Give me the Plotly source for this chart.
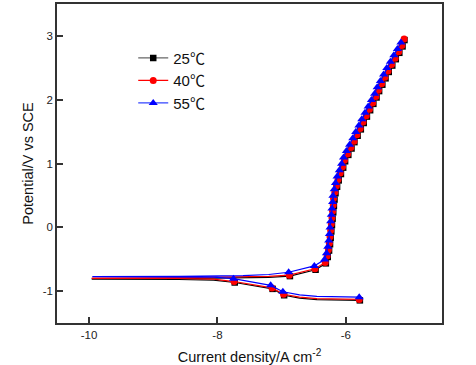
import plotly.graph_objects as go

# ---------------- data ----------------
# 25 °C (black squares)
cat_line_x_25 = [-5.78, -6.10, -6.45, -6.72, -6.96, -7.14, -7.45, -7.73, -8.06, -8.60, -9.95, -9.95, -8.60, -7.60, -7.20]
cat_line_e_25 = [-1.145, -1.142, -1.133, -1.110, -1.065, -0.965, -0.910, -0.865, -0.827, -0.815, -0.812, -0.808, -0.803, -0.795, -0.785]
cat_mark_x_25 = [-5.78, -6.96, -7.14, -7.73]
cat_mark_e_25 = [-1.145, -1.065, -0.965, -0.865]
an_x_25 = [-6.87, -6.47, -6.31, -6.28, -6.26, -6.245, -6.235, -6.225, -6.215, -6.205, -6.195, -6.185,
           -6.175, -6.16, -6.135, -6.11, -6.075, -6.04, -6.01, -5.96, -5.91, -5.865, -5.815, -5.765,
           -5.72, -5.67, -5.62, -5.57, -5.52, -5.48, -5.43, -5.38, -5.33, -5.275, -5.22, -5.165, -5.115, -5.085]
an_e_25 = [-0.765, -0.665, -0.565, -0.465, -0.365, -0.265, -0.165, -0.065, 0.035, 0.135, 0.235, 0.335,
           0.435, 0.535, 0.635, 0.735, 0.835, 0.935, 1.035, 1.135, 1.235, 1.335, 1.435, 1.535,
           1.635, 1.735, 1.835, 1.935, 2.035, 2.135, 2.235, 2.335, 2.435, 2.535, 2.635, 2.735, 2.835, 2.935]

# 40 °C (red circles)
cat_line_x_40 = [-5.79, -6.10, -6.45, -6.72, -6.97, -7.15, -7.45, -7.74, -8.06, -8.60, -9.95, -9.95, -8.60, -7.60, -7.20]
cat_line_e_40 = [-1.130, -1.127, -1.118, -1.095, -1.050, -0.950, -0.895, -0.850, -0.812, -0.802, -0.800, -0.795, -0.790, -0.780, -0.770]
cat_mark_x_40 = [-5.79, -6.97, -7.15, -7.74]
cat_mark_e_40 = [-1.130, -1.050, -0.950, -0.850]
an_x_40 = [-6.88, -6.48, -6.32, -6.29, -6.27, -6.255, -6.245, -6.235, -6.225, -6.215, -6.205, -6.195,
           -6.19, -6.17, -6.145, -6.12, -6.085, -6.05, -6.02, -5.97, -5.92, -5.87, -5.825, -5.775,
           -5.73, -5.68, -5.63, -5.58, -5.53, -5.49, -5.44, -5.39, -5.34, -5.285, -5.23, -5.175, -5.125, -5.09]
an_e_40 = [-0.75, -0.65, -0.55, -0.45, -0.35, -0.25, -0.15, -0.05, 0.05, 0.15, 0.25, 0.35,
           0.45, 0.55, 0.65, 0.75, 0.85, 0.95, 1.05, 1.15, 1.25, 1.35, 1.45, 1.55,
           1.65, 1.75, 1.85, 1.95, 2.05, 2.15, 2.25, 2.35, 2.45, 2.55, 2.65, 2.75, 2.85, 2.95]

# 55 °C (blue triangles)
cat_line_x_55 = [-5.79, -6.10, -6.45, -6.72, -6.98, -7.17, -7.46, -7.75, -8.06, -8.60, -9.95, -9.95, -8.60, -7.60, -7.20]
cat_line_e_55 = [-1.095, -1.092, -1.082, -1.060, -1.010, -0.910, -0.855, -0.805, -0.782, -0.778, -0.776, -0.774, -0.770, -0.758, -0.740]
cat_mark_x_55 = [-5.79, -6.98, -7.17, -7.75]
cat_mark_e_55 = [-1.095, -1.010, -0.910, -0.805]
an_x_55 = [-6.89, -6.49, -6.33, -6.30, -6.28, -6.265, -6.255, -6.245, -6.235, -6.225, -6.215, -6.205,
           -6.20, -6.18, -6.16, -6.135, -6.10, -6.065, -6.035, -5.99, -5.94, -5.89, -5.845, -5.795,
           -5.75, -5.70, -5.65, -5.60, -5.55, -5.51, -5.46, -5.41, -5.36, -5.305, -5.25, -5.195, -5.14]
an_e_55 = [-0.705, -0.605, -0.505, -0.405, -0.305, -0.205, -0.105, -0.005, 0.095, 0.195, 0.295, 0.395,
           0.495, 0.595, 0.695, 0.795, 0.895, 0.995, 1.095, 1.195, 1.295, 1.395, 1.495, 1.595,
           1.695, 1.795, 1.895, 1.995, 2.095, 2.195, 2.295, 2.395, 2.495, 2.595, 2.695, 2.795, 2.895]

series = [
    ("25℃", "#000000", "square", 6.5, cat_line_x_25, cat_line_e_25, cat_mark_x_25, cat_mark_e_25, an_x_25, an_e_25),
    ("40℃", "#FF0000", "circle", 7, cat_line_x_40, cat_line_e_40, cat_mark_x_40, cat_mark_e_40, an_x_40, an_e_40),
    ("55℃", "#0000FF", "triangle-up", 8, cat_line_x_55, cat_line_e_55, cat_mark_x_55, cat_mark_e_55, an_x_55, an_e_55),
]

legend_line = {"#000000": "#666666", "#FF0000": "#FF0000", "#0000FF": "#3344FF"}

fig = go.Figure()
for name, col, sym, sz, clx, cle, cmx, cme, ax, ae in series:
    fig.add_trace(go.Scatter(x=clx + ax, y=cle + ae, mode="lines",
                             line=dict(color=col, width=1.2), showlegend=False, hoverinfo="skip"))
    fig.add_trace(go.Scatter(x=cmx + ax, y=cme + ae, mode="markers",
                             marker=dict(symbol=sym, size=sz, color=col, line=dict(width=0)),
                             showlegend=False))
    fig.add_trace(go.Scatter(x=[None], y=[None], mode="lines+markers", name=name,
                             line=dict(color=legend_line[col], width=1.2),
                             marker=dict(symbol=sym, size=sz, color=col, line=dict(width=0))))

axis_common = dict(showline=True, linecolor="#333333", linewidth=1.6, mirror=True,
                   ticks="inside", ticklen=6, tickwidth=1.5, tickcolor="#333333",
                   showgrid=False, zeroline=False, automargin=False,
                   tickfont=dict(family="Liberation Sans, Arial", size=11.5, color="#222222"))

fig.update_xaxes(range=[-10.5, -4.5], tickvals=[-10, -8, -6], ticktext=["-10", "-8", "-6"],
                 title=dict(text="Current density/A cm<sup>-2</sup>", standoff=14,
                            font=dict(family="Liberation Sans, Arial", size=14.5, color="#111111")),
                 **axis_common)
fig.update_yaxes(range=[-1.5, 3.5], tickvals=[-1, 0, 1, 2, 3], ticktext=["-1", "0", "1", "2", "3"],
                 title=dict(text="Potential/V vs SCE", standoff=6,
                            font=dict(family="Liberation Sans, Arial", size=14.5, color="#111111")),
                 **axis_common)

fig.update_layout(
    width=476, height=365,
    margin=dict(l=57, r=34, t=4, b=42, autoexpand=False),
    paper_bgcolor="white", plot_bgcolor="white",
    showlegend=True,
    legend=dict(x=0.198, y=0.882, xanchor="left", yanchor="top",
                bgcolor="rgba(0,0,0,0)", borderwidth=0,
                font=dict(family="Liberation Sans, Noto Sans CJK SC", size=15, color="#111111"),
                itemsizing="trace", tracegroupgap=0, itemwidth=30),
)

fig.write_html("out.html", config={"displayModeBar": False},
               post_script="document.body.style.margin='0';document.body.style.overflow='hidden';")
